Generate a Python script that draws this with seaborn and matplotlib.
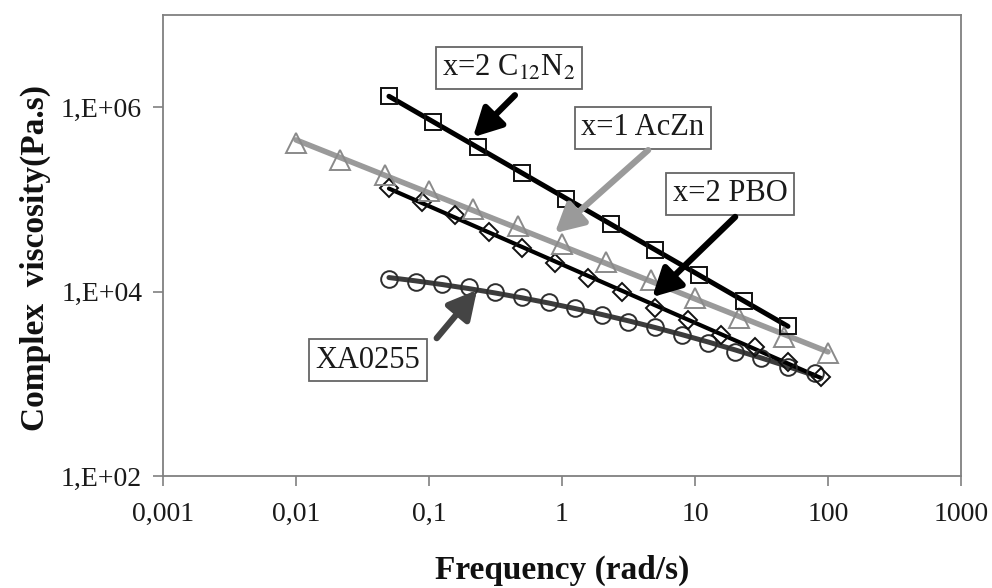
import numpy as np
import pandas as pd
import matplotlib
matplotlib.use("Agg")
import matplotlib.pyplot as plt
from matplotlib.ticker import NullLocator
import seaborn as sns

# values (frequency in rad/s, complex viscosity in Pa.s)
c12n2_freq = [0.05, 0.108, 0.232, 0.5, 1.08, 2.32, 5, 10.8, 23.2, 50]
c12n2_visc = [1.32e6, 6.9e5, 3.70e5, 1.93e5, 1.01e5, 5.41e4, 2.83e4, 1.51e4, 7.91e3, 4.24e3]

aczn_freq = [0.01, 0.0215, 0.0464, 0.1, 0.215, 0.464, 1, 2.15, 4.64, 10, 21.5, 46.4, 100]
aczn_visc = [4.09e5, 2.67e5, 1.84e5, 1.23e5, 7.87e4, 5.14e4, 3.28e4, 2.09e4, 1.34e4,
             8.53e3, 5.18e3, 3.22e3, 2.16e3]

pbo_freq = [0.05, 0.0889, 0.158, 0.281, 0.5, 0.889, 1.58, 2.81, 5, 8.89, 15.8, 28.1, 50, 88.9]
pbo_visc = [1.33e5, 9.38e4, 6.78e4, 4.43e4, 2.97e4, 2.04e4, 1.41e4, 9.9e3, 6.64e3,
            4.92e3, 3.38e3, 2.51e3, 1.72e3, 1.19e3]

xa_freq = [0.05, 0.0792, 0.126, 0.199, 0.315, 0.5, 0.792, 1.26, 1.99, 3.15, 5, 7.92,
           12.6, 19.9, 31.5, 50, 79.2]
xa_visc = [1.37e4, 1.27e4, 1.21e4, 1.12e4, 9.9e3, 8.74e3, 7.71e3, 6.64e3, 5.57e3, 4.68e3,
           4.13e3, 3.38e3, 2.77e3, 2.21e3, 1.91e3, 1.52e3, 1.31e3]

x_ticks = [0.001, 0.01, 0.1, 1, 10, 100, 1000]
x_labels = ['0,001', '0,01', '0,1', '1', '10', '100', '1000']
y_ticks = [1e2, 1e4, 1e6]
y_labels = ['1,E+02', '1,E+04', '1,E+06']

sns.set_style("ticks")
plt.rcParams['font.family'] = ['Liberation Serif', 'DejaVu Serif']
plt.rcParams['mathtext.fontset'] = 'stix'

fig = plt.figure(figsize=(9.92, 5.88), dpi=100)
ax = fig.add_axes([163 / 992, 1 - 476 / 588, 798 / 992, 461 / 588])
ax.set(xscale='log', yscale='log')


def draw_series(freq, visc, marker, ms, mcolor, lcolor, lw, deg):
    df = pd.DataFrame({'freq': freq, 'visc': visc})
    # trend line in log-log space, like the spreadsheet trendlines
    coef = np.polyfit(np.log10(df['freq']), np.log10(df['visc']), deg)
    df['fit'] = 10 ** np.polyval(coef, np.log10(df['freq']))
    sns.lineplot(data=df, x='freq', y='fit', color=lcolor, lw=lw, ax=ax, zorder=3)
    sns.lineplot(data=df, x='freq', y='visc', marker=marker, markersize=ms,
                 markerfacecolor='none', markeredgecolor=mcolor, markeredgewidth=1.4,
                 linestyle='', color=mcolor, ax=ax, zorder=4)


draw_series(xa_freq, xa_visc, 'o', 12, '#2e2e2e', '#3c3c3c', 3.6, 2)
draw_series(pbo_freq, pbo_visc, 'D', 9, '#111111', '#000000', 3.0, 1)
draw_series(aczn_freq, aczn_visc, '^', 14, '#8a8a8a', '#9a9a9a', 4.0, 1)
draw_series(c12n2_freq, c12n2_visc, 's', 11, '#111111', '#000000', 3.6, 1)

ax.set_xlim(1e-3, 1e3)
ax.set_ylim(1e2, 1e7)
ax.set_xticks(x_ticks, x_labels)
ax.set_yticks(y_ticks, y_labels)
ax.xaxis.set_minor_locator(NullLocator())
ax.yaxis.set_minor_locator(NullLocator())
ax.tick_params(axis='both', direction='out', length=7, width=1.2, color='#808080',
               labelsize=20, labelcolor='#1a1a1a')
ax.tick_params(axis='x', pad=12)
ax.tick_params(axis='y', pad=8)
for side in ['left', 'right', 'top', 'bottom']:
    ax.spines[side].set_visible(True)
    ax.spines[side].set_color('#808080')
    ax.spines[side].set_linewidth(1.3)

ax.set_xlabel('Frequency (rad/s)', fontsize=24, fontweight='bold', color='#111111')
ax.set_ylabel('Complex  viscosity(Pa.s)', fontsize=24, fontweight='bold', color='#111111')
ax.xaxis.set_label_coords(0.5, -0.17)
ax.yaxis.set_label_coords(-0.14, 0.473)

# labelled boxes with arrows (axes-fraction positions)
notes = [
    ('x=2 C$_{12}$N$_{2}$', (0.4336, 0.885), (0.441, 0.826), (0.3885, 0.735), '#000000'),
    ('x=1 AcZn', (0.6015, 0.755), (0.608, 0.707), (0.491, 0.527), '#9a9a9a'),
    ('x=2 PBO', (0.7105, 0.612), (0.717, 0.562), (0.613, 0.388), '#000000'),
    ('XA0255', (0.257, 0.2516), (0.343, 0.299), (0.3935, 0.4035), '#444444'),
]
for label, pos, tail, tip, col in notes:
    ax.text(pos[0], pos[1], label, transform=ax.transAxes, ha='center', va='center',
            fontsize=22, color='#1a1a1a', zorder=6,
            bbox=dict(boxstyle='square,pad=0.22', fc='white', ec='#666666', lw=1.3))
    ax.annotate('', xy=tip, xytext=tail, xycoords='axes fraction',
                textcoords='axes fraction', zorder=7,
                arrowprops=dict(arrowstyle='-|>,head_length=0.85,head_width=0.45',
                                mutation_scale=20, lw=4.5, color=col,
                                shrinkA=0, shrinkB=0))

fig.savefig('out.png', dpi=100)
